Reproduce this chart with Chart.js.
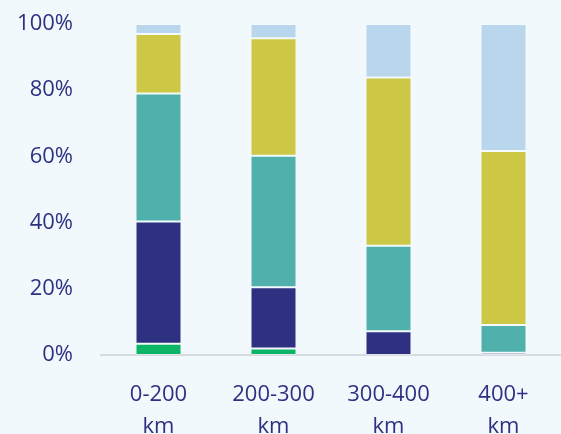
<!DOCTYPE html>
<html>
<head>
<meta charset="utf-8">
<script src="https://cdn.jsdelivr.net/npm/chart.js@4/dist/chart.umd.min.js"></script>
<style>
  html, body { margin: 0; padding: 0; background: #f1f9fc; overflow: hidden; width: 561px; height: 434px; }
  #wrap { position: absolute; left: 0; top: -15px; width: 561px; height: 484px; }
</style>
</head>
<body>
<div id="wrap"><canvas id="chart"></canvas></div>
<script>
// categories (two-line labels)
const categories = [['0-200', 'km'], ['200-300', 'km'], ['300-400', 'km'], ['400+', 'km']];

// share per segment, in % (bottom to top)
const greenShare = [3.4, 2.0, 0, 0];
const navyShare = [36.9, 18.5, 7.2, 0.7];
const tealShare = [38.7, 39.7, 25.8, 8.4];
const yellowShare = [18.0, 35.5, 50.8, 52.5];
const lightShare = [3.0, 4.3, 16.2, 38.4];

const yTicks = [0, 20, 40, 60, 80, 100];

const textColor = '#2e3182';

function series(label, data, color) {
    return {
        label: label,
        data: data,
        backgroundColor: color,
        borderColor: 'rgba(255,255,255,0.3)',
        borderWidth: 1,
        borderSkipped: false,
        barPercentage: 0.4,
        categoryPercentage: 1.0
    };
}

new Chart(document.getElementById('chart'), {
    type: 'bar',
    data: {
        labels: categories,
        datasets: [
            series('Serie 1', greenShare, '#0cb466'),
            series('Serie 2', navyShare, '#2e3181'),
            series('Serie 3', tealShare, '#4fb0ac'),
            series('Serie 4', yellowShare, '#ccc845'),
            series('Serie 5', lightShare, '#b9d6ec')
        ]
    },
    options: {
        responsive: true,
        maintainAspectRatio: false,
        animation: false,
        layout: { padding: 0 },
        plugins: {
            legend: { display: false },
            tooltip: { enabled: false }
        },
        scales: {
            x: {
                stacked: true,
                grid: { display: false, drawTicks: false },
                border: { display: true, color: '#d6dcdf', width: 2 },
                afterFit: (axis) => { axis.height = 114; },
                ticks: {
                    color: textColor,
                    padding: 24,
                    maxRotation: 0,
                    font: { family: 'Open Sans', size: 22, lineHeight: 1.45 }
                }
            },
            y: {
                stacked: true,
                min: 0,
                max: 100,
                afterBuildTicks: (axis) => { axis.ticks = yTicks.map(v => ({ value: v })); },
                afterFit: (axis) => { axis.width = 101; },
                grid: { display: false, drawTicks: false },
                border: { display: false },
                ticks: {
                    color: textColor,
                    padding: 28,
                    font: { family: 'Open Sans', size: 22, lineHeight: 1 },
                    callback: (v) => v + '%'
                }
            }
        }
    }
});
</script>
</body>
</html>
